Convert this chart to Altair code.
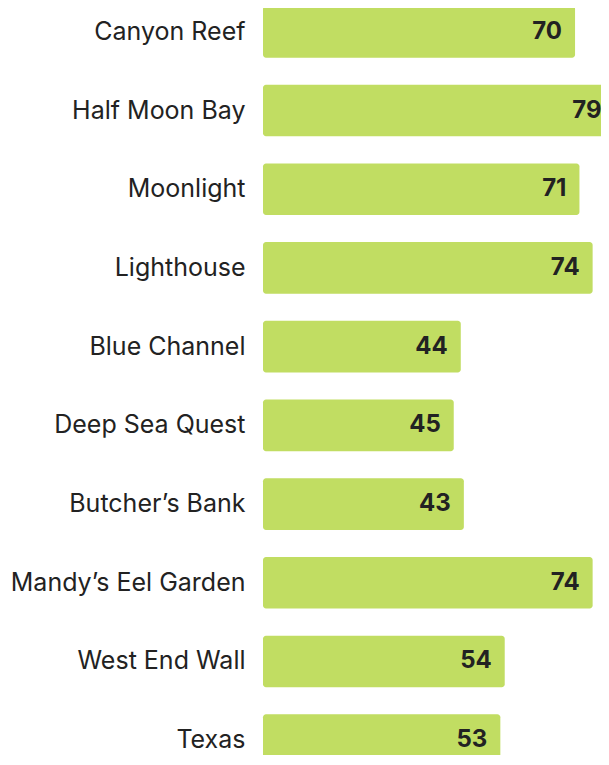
import altair as alt
import pandas as pd

sites = ["Canyon Reef", "Half Moon Bay", "Moonlight", "Lighthouse", "Blue Channel",
         "Deep Sea Quest", "Butcher\u2019s Bank", "Mandy\u2019s Eel Garden", "West End Wall", "Texas"]
bar_values = [70, 79, 71, 74, 44, 42.4, 44.7, 74, 54, 53]
value_labels = [70, 79, 71, 74, 44, 45, 43, 74, 54, 53]

df = pd.DataFrame({"site": sites, "bar": bar_values, "label": value_labels})

y = alt.Y("site:N", sort=None,
          scale=alt.Scale(paddingInner=0.344, paddingOuter=0),
          axis=alt.Axis(title=None, domain=False, ticks=False, labelFontSize=25,
                        labelFont="Inter", labelColor="#222222", labelPadding=18,
                        labelLimit=0))
x = alt.X("bar:Q", scale=alt.Scale(domain=[-1, 80], nice=False, zero=False), axis=None)

bars = alt.Chart(df).mark_bar(cornerRadius=3, color="#C1DD62").encode(
    y=y, x=x, x2=alt.datum(-1))

texts = alt.Chart(df).mark_text(align="right", baseline="middle", dx=-13, font="Inter",
                                fontWeight="bold", fontSize=24, color="#222222").encode(
    y=y, x=x, text=alt.Text("label:Q"))

chart = (bars + texts).properties(
    width=356, height=760,
    autosize=alt.AutoSizeParams(type="none"),
    padding={"left": 255, "top": -2, "right": -18, "bottom": -11},
).configure_view(stroke=None)

chart.save("out.html", embed_options={"renderer": "svg", "actions": False})
